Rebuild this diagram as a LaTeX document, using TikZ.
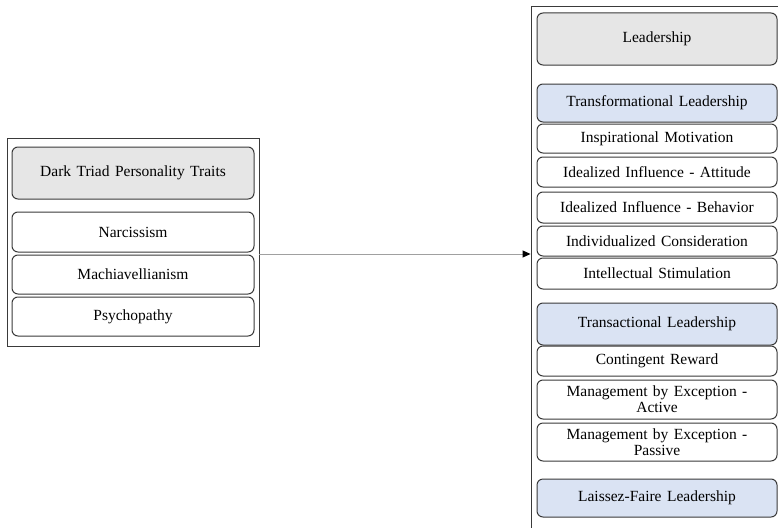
\documentclass[tikz,border=0pt]{standalone}
\usepackage{fontspec}
\setmainfont[WordSpace={1.4,0.5,0.3}]{Liberation Serif}
\usetikzlibrary{arrows.meta}
\definecolor{edge}{HTML}{3A3A3A}
\definecolor{grayfill}{HTML}{E6E6E6}
\definecolor{bluefill}{HTML}{DAE3F3}
\definecolor{linegray}{HTML}{A0A0A0}
\tikzset{
  frame/.style={draw=edge, line width=0.9pt, fill=white, inner sep=0pt},
  box/.style={draw=edge, line width=1pt, rounded corners=6pt, fill=white, inner sep=0pt,
    align=center, font=\fontsize{15.5}{16}\selectfont},
  headbox/.style={box, fill=grayfill},
  subbox/.style={box, fill=bluefill},
  conn/.style={draw=linegray, line width=0.9pt, -{Triangle[length=8pt,width=7pt,color=black]}}
}
\begin{document}
\begin{tikzpicture}[x=1pt,y=1pt]
\clip (0,0) rectangle (778,-527);
\useasboundingbox (0,0) rectangle (778,-527);
\fill[white] (0,0) rectangle (778,-527);
% left group
\node[frame, minimum width=252pt, minimum height=208pt] (leftframe) at (133,-242) {};
\node[headbox, minimum width=242pt, minimum height=52pt] (dark) at (133,-173) {Dark Triad Personality Traits};
\node[box, minimum width=242pt, minimum height=40pt] (narc) at (133,-232) {Narcissism};
\node[box, minimum width=242pt, minimum height=39pt] (mach) at (133,-274.5) {Machiavellianism};
\node[box, minimum width=242pt, minimum height=39pt] (psych) at (133,-316.5) {Psychopathy};
% right group
\node[frame, minimum width=269pt, minimum height=534pt] (rightframe) at (665.5,-273) {};
\node[headbox, minimum width=240pt, minimum height=52pt] (lead) at (657,-39) {Leadership};
\node[subbox, minimum width=240pt, minimum height=38pt] (trf) at (657,-103) {Transformational Leadership};
\node[box, minimum width=240pt, minimum height=29pt] (insp) at (657,-138.5) {Inspirational Motivation};
\node[box, minimum width=240pt, minimum height=30pt] (att) at (657,-172) {Idealized Influence - Attitude};
\node[box, minimum width=240pt, minimum height=31pt] (beh) at (657,-207.5) {Idealized Influence - Behavior};
\node[box, minimum width=240pt, minimum height=30pt] (indc) at (657,-241) {Individualized Consideration};
\node[box, minimum width=240pt, minimum height=31pt] (intl) at (657,-273.5) {Intellectual Stimulation};
\node[subbox, minimum width=240pt, minimum height=42pt] (trc) at (657,-324) {Transactional Leadership};
\node[box, minimum width=240pt, minimum height=30pt] (cont) at (657,-361) {Contingent Reward};
\node[box, minimum width=240pt, minimum height=39pt] (mbea) at (657,-399.5) {Management by Exception -\\Active};
\node[box, minimum width=240pt, minimum height=38pt] (mbep) at (657,-442) {Management by Exception -\\Passive};
\node[subbox, minimum width=240pt, minimum height=38pt] (lf) at (657,-498) {Laissez-Faire Leadership};
% connector
\coordinate (arr) at (0,-254);
\draw[conn] (leftframe.east |- arr) -- (rightframe.west |- arr);
\end{tikzpicture}
\end{document}
